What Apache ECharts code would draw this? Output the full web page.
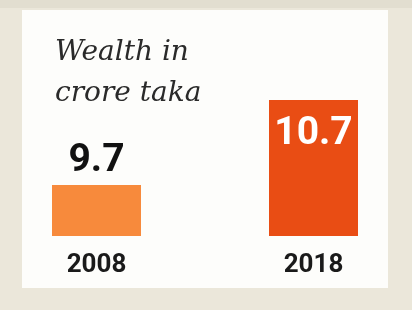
<!DOCTYPE html>
<html>
<head>
<meta charset="utf-8">
<style>html,body{margin:0;padding:0;background:#ebe7da;}#c{width:412px;height:310px;}</style>
<script src="https://cdn.jsdelivr.net/npm/echarts@6/dist/echarts.min.js"></script>
</head>
<body>
<div id="c"></div>
<script>
const categories = ['2008', '2018'];
const values = [9.7, 10.7];
const barColors = ['#f78a3c', '#e94d14'];
const titleText = 'Wealth in\ncrore taka';

const chart = echarts.init(document.getElementById('c'), null, {renderer: 'canvas'});
chart.setOption({
  backgroundColor: '#ebe7da',
  animation: false,
  graphic: [
    {type: 'rect', shape: {x: 0, y: 0, width: 412, height: 8}, style: {fill: '#e2ded0'}, z: -10},
    {type: 'rect', shape: {x: 22, y: 10, width: 366, height: 278}, style: {fill: '#fdfdfb'}, z: -5}
  ],
  title: {
    text: titleText,
    left: 50,
    top: 27,
    textStyle: {
      fontFamily: 'DejaVu Serif',
      fontStyle: 'italic',
      fontWeight: 'normal',
      fontSize: 28,
      lineHeight: 41,
      color: '#2a2a2a'
    }
  },
  grid: {left: -12, width: 434, top: 74.5, height: 161.5, outerBoundsMode: 'none', containLabel: false},
  xAxis: {
    type: 'category',
    data: categories,
    axisLine: {show: false},
    axisTick: {show: false},
    axisLabel: {
      margin: 16,
      fontFamily: 'Roboto',
      fontWeight: 'bold',
      fontSize: 26,
      color: '#1a1a1a'
    }
  },
  yAxis: {
    type: 'value',
    min: 9.1,
    max: 11,
    show: false,
    splitLine: {show: false}
  },
  series: [{
    type: 'bar',
    barWidth: 89,
    data: values.map((v, i) => ({
      value: v,
      itemStyle: {color: barColors[i]},
      label: i === 0 ? {
        show: true, position: 'top', distance: 4, color: '#111'
      } : {
        show: true, position: 'insideTop', distance: 15, color: '#ffffff'
      }
    })),
    label: {
      fontFamily: 'Roboto',
      fontWeight: 'bold',
      fontSize: 39
    }
  }]
});
</script>
</body>
</html>
